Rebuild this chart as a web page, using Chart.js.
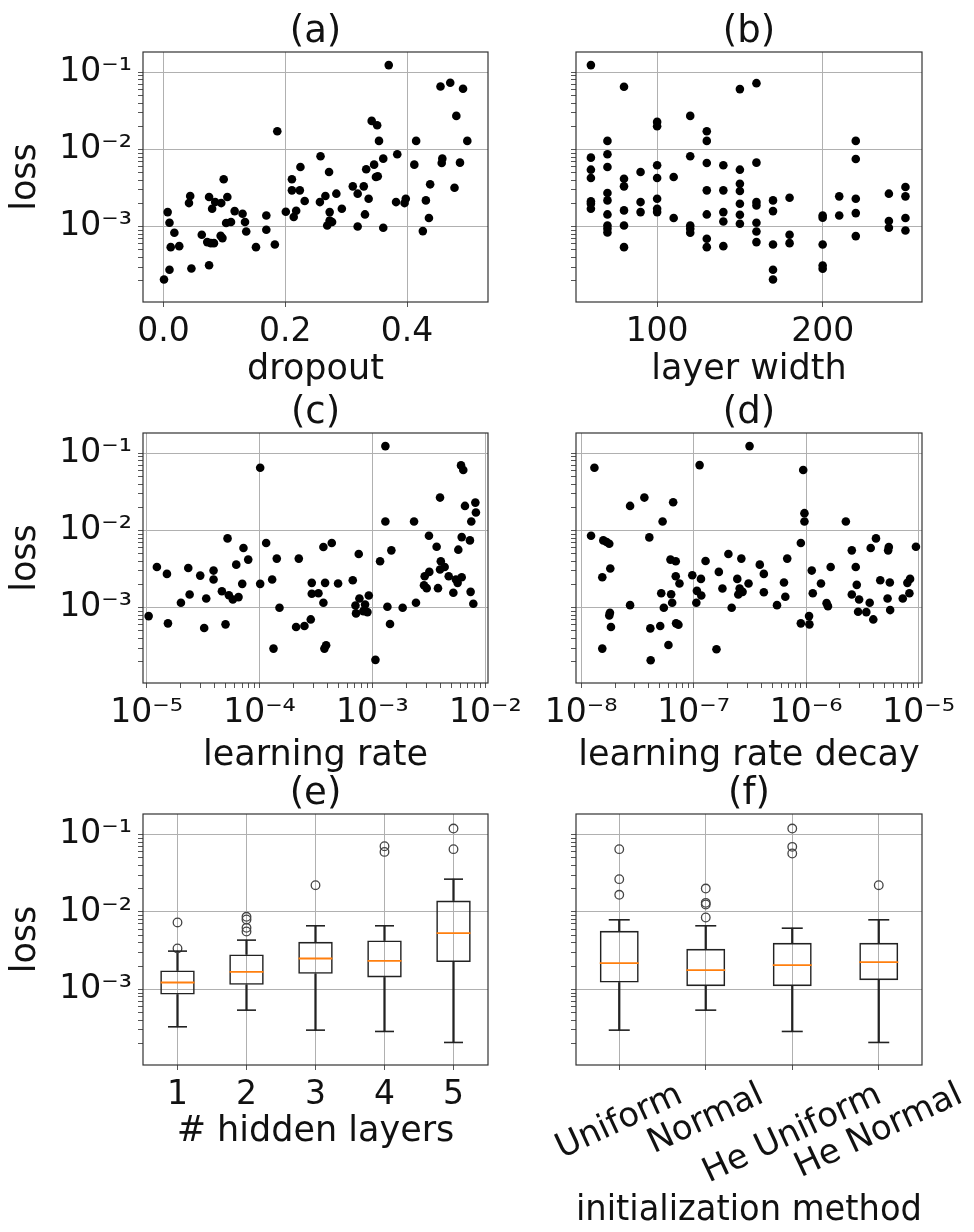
<!DOCTYPE html>
<html>
<head>
<meta charset="utf-8">
<script src="https://cdn.jsdelivr.net/npm/chart.js@4.4.0/dist/chart.umd.min.js"></script>
<style>
  body { margin: 0; background: #fff; }
  #fig { position: relative; width: 974px; height: 1232px; overflow: hidden; }
  #fig canvas { position: absolute; }
</style>
</head>
<body>
<div id="fig">
  <canvas id="cA" width="560" height="383" style="left:0;top:12px"></canvas>
  <canvas id="cB" width="484" height="383" style="left:490px;top:12px"></canvas>
  <canvas id="cC" width="560" height="392" style="left:0;top:393px"></canvas>
  <canvas id="cD" width="484" height="392" style="left:490px;top:393px"></canvas>
  <canvas id="cE" width="560" height="458" style="left:0;top:774px"></canvas>
  <canvas id="cF" width="484" height="458" style="left:490px;top:774px"></canvas>
</div>
<script>
// ---- data (loss values are stored as log10) ----
const dropout = [0.001,0.010,0.007,0.010,0.018,0.012,0.026,0.046,0.042,0.044,0.063,0.072,0.078,0.083,0.075,0.075,0.080,0.085,0.095,0.097,0.094,0.099,0.105,0.103,0.111,0.117,0.130,0.134,0.136,0.152,0.169,0.169,0.183,0.187,0.201,0.211,0.211,0.214,0.218,0.224,0.225,0.232,0.258,0.257,0.266,0.272,0.273,0.273,0.269,0.277,0.284,0.293,0.311,0.319,0.319,0.329,0.331,0.337,0.333,0.342,0.351,0.354,0.346,0.349,0.352,0.361,0.361,0.370,0.384,0.382,0.396,0.398,0.412,0.415,0.426,0.431,0.436,0.438,0.455,0.471,0.492,0.481,0.499,0.458,0.457,0.487,0.478];
const dropoutLossLog = [-3.684,-3.558,-2.810,-2.948,-3.078,-3.264,-3.251,-3.541,-2.693,-2.602,-3.104,-3.199,-3.212,-3.212,-3.498,-2.615,-2.766,-2.680,-2.693,-3.147,-3.118,-2.385,-2.615,-2.952,-2.939,-2.797,-2.831,-2.939,-3.061,-3.264,-2.853,-3.039,-3.229,-1.762,-2.806,-2.385,-2.528,-2.874,-2.792,-2.528,-2.225,-2.667,-2.087,-2.680,-2.602,-2.290,-2.810,-2.918,-2.983,-2.939,-2.571,-2.766,-2.476,-2.571,-2.996,-2.476,-2.840,-2.636,-2.255,-1.628,-1.684,-1.887,-2.195,-2.355,-2.346,-2.117,-3.013,-0.905,-2.061,-2.680,-2.693,-2.636,-2.195,-1.887,-3.056,-2.658,-2.887,-2.450,-1.182,-1.134,-1.212,-1.563,-1.887,-2.117,-2.173,-2.169,-2.494];

const layerWidth = [60,60,60,60,60,60,60, 70,70,70,70,70,70,70,70,70, 80,80,80,80,80,80, 90,90,90, 100,100,100,100,100,100,100, 110,110, 120,120,120,120,120, 130,130,130,130,130,130,130, 140,140,140,140,140, 150,150,150,150,150,150,150, 160,160,160,160,160,160,160, 170,170,170,170,170, 180,180,180, 200,200,200,200,200, 210,210, 220,220,220,220,220, 240,240,240, 250,250,250,250];
const widthLossLog = [-0.905,-2.104,-2.260,-2.368,-2.671,-2.701,-2.766, -1.887,-2.061,-2.225,-2.563,-2.658,-2.840,-2.983,-3.026,-3.074, -1.186,-2.377,-2.476,-2.788,-2.983,-3.264, -2.290,-2.680,-2.810, -1.641,-1.697,-2.203,-2.368,-2.636,-2.766,-2.810, -2.355,-2.887, -1.563,-2.087,-2.983,-3.026,-3.078, -1.762,-1.887,-2.173,-2.528,-2.840,-3.156,-3.264, -2.203,-2.528,-2.810,-2.931,-3.251, -1.216,-2.260,-2.442,-2.537,-2.701,-2.844,-2.961, -1.139,-2.169,-2.680,-2.723,-2.948,-3.061,-3.199, -2.658,-2.797,-3.229,-3.558,-3.684, -2.623,-3.104,-3.212, -2.853,-2.883,-3.229,-3.502,-3.545, -2.606,-2.853, -1.887,-2.121,-2.636,-2.823,-3.121, -2.571,-2.926,-3.013, -2.485,-2.606,-2.887,-3.048];

const learningRateLog = [-4.982,-4.909,-4.820,-4.811,-4.696,-4.631,-4.619,-4.525,-4.490,-4.472,-4.407,-4.407,-4.333,-4.301,-4.283,-4.271,-4.236,-4.206,-4.186,-4.153,-4.142,-4.100,-3.994,-3.994,-3.941,-3.888,-3.876,-3.847,-3.823,-3.676,-3.652,-3.602,-3.546,-3.537,-3.537,-3.478,-3.434,-3.434,-3.419,-3.360,-3.425,-3.410,-3.304,-3.174,-3.121,-3.150,-3.145,-3.115,-3.080,-3.065,-3.044,-3.032,-2.973,-2.932,-2.885,-2.885,-2.867,-2.844,-2.832,-2.732,-2.631,-2.614,-2.537,-2.519,-2.499,-2.496,-2.431,-2.419,-2.401,-2.394,-2.401,-2.360,-2.324,-2.283,-2.260,-2.245,-2.239,-2.215,-2.195,-2.209,-2.209,-2.180,-2.136,-2.130,-2.124,-2.106,-2.088,-2.083,-2.543];
const lrLossLog = [-3.108,-2.471,-2.561,-3.202,-2.935,-2.484,-2.828,-2.583,-3.262,-2.880,-2.518,-2.634,-2.785,-3.215,-2.101,-2.837,-2.892,-2.441,-2.862,-2.690,-2.226,-2.376,-1.185,-2.690,-2.161,-2.634,-3.529,-2.363,-3.000,-3.249,-2.363,-3.237,-3.151,-2.677,-2.819,-2.811,-2.935,-2.213,-2.677,-2.161,-3.529,-3.486,-2.686,-2.643,-2.303,-2.970,-3.073,-2.880,-3.043,-2.957,-3.056,-2.841,-3.675,-2.398,-0.905,-1.882,-2.987,-3.211,-2.256,-3.000,-1.882,-2.935,-2.591,-2.746,-2.067,-2.535,-2.209,-2.746,-1.572,-2.398,-2.505,-2.471,-2.591,-2.806,-2.634,-2.677,-2.247,-1.155,-1.215,-2.084,-2.604,-1.680,-2.127,-2.794,-1.882,-2.948,-1.637,-1.766,-2.708];

const decayLog = [-7.912,-7.882,-7.812,-7.803,-7.774,-7.750,-7.741,-7.812,-7.744,-7.750,-7.735,-7.565,-7.565,-7.438,-7.394,-7.385,-7.382,-7.297,-7.288,-7.276,-7.265,-7.224,-7.206,-7.200,-7.191,-7.182,-7.159,-7.159,-7.156,-7.135,-7.126,-7.012,-6.976,-6.971,-6.947,-6.935,-6.932,-6.894,-6.797,-6.776,-6.744,-6.691,-6.662,-6.612,-6.603,-6.591,-6.576,-6.565,-6.512,-6.503,-6.412,-6.376,-6.376,-6.259,-6.197,-6.185,-6.168,-6.047,-6.047,-6.026,-6.015,-6.015,-5.974,-5.971,-5.950,-5.941,-5.868,-5.818,-5.806,-5.782,-5.647,-5.594,-5.594,-5.559,-5.550,-5.529,-5.538,-5.465,-5.435,-5.426,-5.403,-5.379,-5.341,-5.276,-5.271,-5.265,-5.256,-5.253,-5.141,-5.100,-5.082,-5.076,-5.024];
const decayLossLog = [-2.067,-1.185,-2.604,-2.127,-2.148,-2.170,-2.492,-3.529,-3.065,-3.099,-3.249,-1.680,-2.966,-1.572,-2.088,-3.267,-3.680,-3.237,-2.811,-1.882,-3.000,-3.482,-2.376,-2.824,-2.935,-1.632,-2.398,-2.591,-3.202,-3.219,-2.686,-2.578,-2.935,-2.781,-1.151,-2.626,-2.841,-2.394,-3.538,-2.535,-2.751,-2.303,-3.000,-2.626,-2.828,-2.751,-2.363,-2.794,-2.686,-0.905,-2.441,-2.561,-2.798,-2.966,-2.673,-2.858,-2.363,-3.202,-2.161,-1.215,-1.774,-1.882,-3.108,-3.215,-2.518,-2.811,-2.686,-2.940,-2.979,-2.471,-1.882,-2.256,-2.828,-2.471,-2.703,-2.892,-3.052,-3.056,-2.935,-2.226,-3.151,-2.101,-2.643,-2.880,-2.256,-2.213,-2.673,-3.030,-2.880,-2.677,-2.811,-2.626,-2.209];

const layerCounts = ['1', '2', '3', '4', '5'];
const layersQ1 = [-3.065, -2.940, -2.798, -2.845, -2.647];
const layersMedian = [-2.910, -2.772, -2.600, -2.630, -2.273];
const layersQ3 = [-2.755, -2.548, -2.385, -2.368, -1.852];
const layersWhiskLo = [-3.482, -3.267, -3.525, -3.542, -3.684];
const layersWhiskHi = [-2.505, -2.363, -2.178, -2.178, -1.576];
const layersOutliers = [[-2.135, -2.471], [-2.062, -2.097, -2.204, -2.252], [-1.654], [-1.151, -1.224], [-0.923, -1.189]];

const initMethods = ['Uniform', 'Normal', 'He Uniform', 'He Normal'];
const initQ1 = [-2.910, -2.957, -2.957, -2.880];
const initMedian = [-2.660, -2.751, -2.686, -2.647];
const initQ3 = [-2.243, -2.475, -2.398, -2.398];
const initWhiskLo = [-3.525, -3.267, -3.542, -3.684];
const initWhiskHi = [-2.101, -2.178, -2.209, -2.101];
const initOutliers = [[-1.189, -1.576, -1.778], [-1.697, -1.882, -1.903, -2.071], [-0.923, -1.159, -1.245], [-1.654]];

// ---- helpers ----
const FONT = "'DejaVu Sans', sans-serif";
Chart.defaults.font.family = FONT;
Chart.defaults.color = '#111';

const LOSS_MIN = Math.pow(10, -3.975);
const LOSS_MAX = Math.pow(10, -0.735);
const INK = '#222';
const TICK_SIZE = 33;
const LABEL_SIZE = 35;

const p10 = v => Math.pow(10, v);
const isMajor = v => v > 0 && Math.abs(Math.log10(v) - Math.round(Math.log10(v))) < 1e-6;
function sup10(v) {
    const e = String(Math.round(Math.log10(v)));
    return '10' + e.replace(/-/g, '\u207B').replace(/\d/g, d => '\u2070\u00B9\u00B2\u00B3\u2074\u2075\u2076\u2077\u2078\u2079'[d]);
}
function decadeTicks(lo, hi, min, max) {
    const out = [];
    for (let e = lo; e <= hi; e++)
        for (let m = 1; m < 10; m++) {
            const v = m * Math.pow(10, e);
            if (v >= min && v <= max) out.push({ value: v });
        }
    return out;
}

const logGrid = {
    offset: false,
    color: c => (c.tick && isMajor(c.tick.value)) ? '#b0b0b0' : 'rgba(0,0,0,0)',
    tickColor: '#555', tickLength: 5, lineWidth: 1
};
const flatGrid = { offset: false, color: '#b0b0b0', tickColor: '#555', tickLength: 5, lineWidth: 1 };

function lossAxis(showLabels, yWidth) {
    return {
        type: 'logarithmic', min: LOSS_MIN, max: LOSS_MAX,
        afterBuildTicks: s => { s.ticks = decadeTicks(-4, -1, LOSS_MIN, LOSS_MAX); },
        afterFit: s => { s.width = yWidth; },
        ticks: { autoSkip: false, padding: 6, color: '#111', font: { size: TICK_SIZE },
                 callback: v => (showLabels && isMajor(v)) ? sup10(v) : '' },
        grid: logGrid,
        border: { display: false },
        title: { display: showLabels, text: 'loss', color: '#111', font: { size: LABEL_SIZE }, padding: { top: 5, bottom: 0 } }
    };
}

function xTitle(text, pb) {
    return { display: true, text, color: '#111', font: { size: LABEL_SIZE }, padding: { top: 0, bottom: pb } };
}

function panelTitle(t) {
    return { display: true, text: t, fullSize: false, color: '#111',
             font: { size: 37, weight: 'normal', lineHeight: 1 }, padding: { top: 2, bottom: 1 } };
}

const frame = {
    id: 'frame',
    afterDatasetsDraw(chart) {
        const { ctx, chartArea: a } = chart;
        ctx.save();
        ctx.strokeStyle = '#333';
        ctx.lineWidth = 1.2;
        ctx.strokeRect(a.left, a.top, a.right - a.left, a.bottom - a.top);
        ctx.restore();
    }
};

// rotated category labels, centred on their ticks like matplotlib
const slantLabels = {
    id: 'slantLabels',
    afterDraw(chart, args, opts) {
        const { ctx } = chart;
        const sx = chart.scales.x;
        const ang = opts.angle * Math.PI / 180;
        ctx.save();
        ctx.font = opts.size + 'px ' + FONT;
        ctx.fillStyle = '#111';
        ctx.textAlign = 'center';
        ctx.textBaseline = 'middle';
        chart.data.labels.forEach((t, i) => {
            const w = ctx.measureText(t).width;
            const bh = w * Math.sin(ang) + opts.size * Math.cos(ang);
            ctx.save();
            ctx.translate(sx.getPixelForTick(i), chart.chartArea.bottom + opts.gap + bh / 2);
            ctx.rotate(-ang);
            ctx.fillText(t, 0, 0);
            ctx.restore();
        });
        ctx.restore();
    }
};

function baseOptions(title, rightPad) {
    return {
        responsive: false, animation: false, events: [],
        layout: { padding: { left: 0, top: 0, right: rightPad, bottom: 0 } },
        plugins: { legend: { display: false }, tooltip: { enabled: false }, title: panelTitle(title) }
    };
}

function scatterSet(xs, ys) {
    return {
        data: xs.map((x, i) => ({ x, y: p10(ys[i]) })),
        pointRadius: 4.3, pointBackgroundColor: '#000', pointBorderWidth: 0
    };
}

// ---- scatter panels ----
function scatterPanel(id, title, xs, ys, xScale, showY, yWidth, rightPad) {
    const opts = baseOptions(title, rightPad);
    opts.scales = { x: xScale, y: lossAxis(showY, yWidth) };
    return new Chart(document.getElementById(id), {
        type: 'scatter',
        data: { datasets: [scatterSet(xs, ys)] },
        options: opts,
        plugins: [frame]
    });
}

function linearX(min, max, tickVals, digits, xHeight, title, pb) {
    return {
        type: 'linear', min, max,
        afterBuildTicks: s => { s.ticks = tickVals.map(v => ({ value: v })); },
        afterFit: s => { s.height = xHeight; },
        ticks: { autoSkip: false, minRotation: 0, maxRotation: 0, padding: 6, color: '#111', font: { size: TICK_SIZE },
                 callback: v => v.toFixed(digits) },
        grid: flatGrid, border: { display: false },
        title: xTitle(title, pb)
    };
}

function expX(lo, hi, xHeight, title, pb) {
    const min = p10(lo), max = p10(hi);
    return {
        type: 'logarithmic', min, max,
        afterBuildTicks: s => { s.ticks = decadeTicks(Math.floor(lo), Math.ceil(hi), min, max); },
        afterFit: s => { s.height = xHeight; },
        ticks: { autoSkip: false, minRotation: 0, maxRotation: 0, padding: 6, color: '#111', font: { size: TICK_SIZE },
                 callback: v => isMajor(v) ? sup10(v) : '' },
        grid: logGrid, border: { display: false },
        title: xTitle(title, pb)
    };
}

scatterPanel('cA', '(a)', dropout, dropoutLossLog,
    linearX(-0.0335, 0.533, [0, 0.2, 0.4], 1, 93, 'dropout', 4), true, 143, 72);
scatterPanel('cB', '(b)', layerWidth, widthLossLog,
    linearX(51, 260, [100, 200], 0, 93, 'layer width', 4), false, 86, 52);
scatterPanel('cC', '(c)', learningRateLog.map(p10), lrLossLog,
    expX(-5.032, -1.976, 102, 'learning rate', 8), true, 143, 72);
scatterPanel('cD', '(d)', decayLog.map(p10), decayLossLog,
    expX(-8.03, -4.97, 102, 'learning rate decay', 8), false, 86, 52);

// ---- box plot panels ----
function boxSets(labels, q1, med, q3, lo, hi, outliers, boxFrac, medHalf, capHalf) {
    const outPts = [];
    outliers.forEach((list, i) => list.forEach(v => outPts.push({ x: labels[i], y: p10(v) })));
    const marks = { type: 'line', showLine: false, pointStyle: 'line' };
    return [
        Object.assign({}, marks, { data: med.map(p10), pointRadius: medHalf, pointBorderColor: '#ff7f0e', pointBorderWidth: 1.8 }),
        Object.assign({}, marks, { data: lo.map(p10), pointRadius: capHalf, pointBorderColor: INK, pointBorderWidth: 1.6 }),
        Object.assign({}, marks, { data: hi.map(p10), pointRadius: capHalf, pointBorderColor: INK, pointBorderWidth: 1.6 }),
        { type: 'line', showLine: false, data: outPts, pointStyle: 'circle', pointRadius: 4.3,
          pointBackgroundColor: 'rgba(0,0,0,0)', pointBorderColor: '#444', pointBorderWidth: 1.3 },
        { type: 'bar', grouped: false, data: q1.map((v, i) => [p10(v), p10(q3[i])]),
          backgroundColor: 'rgba(0,0,0,0)', borderColor: INK, borderWidth: 1.6, borderSkipped: false,
          barPercentage: boxFrac, categoryPercentage: 1 },
        { type: 'bar', grouped: false, data: lo.map((v, i) => [p10(v), p10(q1[i])]),
          backgroundColor: INK, borderWidth: 0, barThickness: 1.6 },
        { type: 'bar', grouped: false, data: q3.map((v, i) => [p10(v), p10(hi[i])]),
          backgroundColor: INK, borderWidth: 0, barThickness: 1.6 }
    ];
}

function boxPanel(id, title, labels, sets, showY, yWidth, rightPad, xTitleText, pb, showTicks, extra) {
    const opts = baseOptions(title, rightPad);
    opts.scales = {
        x: {
            type: 'category', offset: true,
            afterFit: s => { s.height = 167; },
            ticks: { display: showTicks, autoSkip: false, minRotation: 0, maxRotation: 0, padding: 6, color: '#111', font: { size: TICK_SIZE } },
            grid: flatGrid, border: { display: false },
            title: xTitle(xTitleText, pb)
        },
        y: lossAxis(showY, yWidth)
    };
    const plugins = [frame];
    if (extra) { opts.plugins.slantLabels = extra; plugins.push(slantLabels); }
    return new Chart(document.getElementById(id), {
        type: 'bar',
        data: { labels, datasets: sets },
        options: opts,
        plugins
    });
}

boxPanel('cE', '(e)', layerCounts,
    boxSets(layerCounts, layersQ1, layersMedian, layersQ3, layersWhiskLo, layersWhiskHi, layersOutliers, 0.5, 17, 9.5),
    true, 143, 72, '# hidden layers', 79, true, null);
boxPanel('cF', '(f)', initMethods,
    boxSets(initMethods, initQ1, initMedian, initQ3, initWhiskLo, initWhiskHi, initOutliers, 0.45, 19.5, 10.5),
    false, 86, 52, 'initialization method', 0, false, { angle: 25, size: 34, gap: 13 });
</script>
</body>
</html>
